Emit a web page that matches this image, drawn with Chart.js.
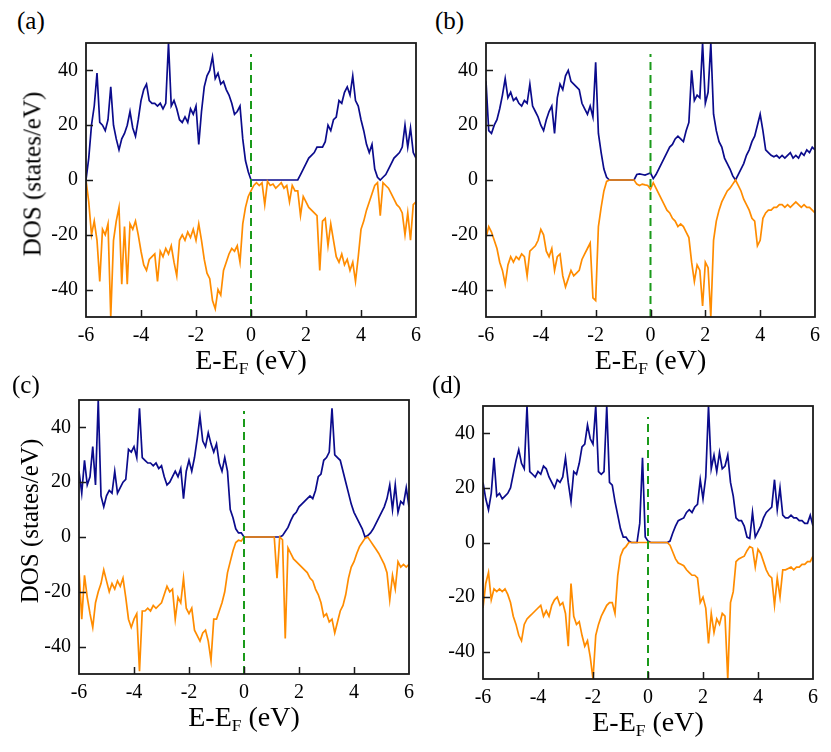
<!DOCTYPE html>
<html>
<head>
<meta charset="utf-8">
<script src="https://cdn.jsdelivr.net/npm/chart.js@4.4.1/dist/chart.umd.min.js"></script>
<style>
  html, body { margin: 0; padding: 0; background: #fff; }
  #page { position: relative; width: 831px; height: 752px; overflow: hidden; font-family: "Liberation Serif", serif; color: #000; }
  .panel { position: absolute; }
  .tag { position: absolute; font-size: 25px; line-height: 1; }
  .xtitle { position: absolute; font-size: 28px; line-height: 1; white-space: nowrap; transform: translateX(-50%); }
  .xtitle sub { font-size: 0.62em; vertical-align: -0.3em; line-height: 0; }
  .ytitle { position: absolute; font-size: 25px; line-height: 1; white-space: nowrap; transform: translate(-50%, -50%) rotate(-90deg); }
</style>
</head>
<body>
<div id="page"></div>
<script>
// energy grid, E - E_F in eV, 0.1 eV steps from -6 to 6
const energy = [];
for (let i = 0; i <= 120; i++) energy.push(Math.round((-6 + i * 0.1) * 10) / 10);

const xTickValues = [-6, -4, -2, 0, 2, 4, 6];
const yTickValues = [-40, -20, 0, 20, 40];
const fermiLevel = 0;
const fermiTop = 46;

// DOS, states/eV (spin up positive, spin down negative)
const aUp = [
  0, 8, 20, 27, 39, 21, 20, 18, 22, 34,
  20, 15, 11, 15, 17, 20, 25, 19, 16, 22,
  29, 33, 35, 29, 28, 28, 27, 28, 26, 28,
  50, 27, 29, 26, 22, 21, 23, 21, 26, 24,
  27, 13, 25, 34, 38, 40, 45, 37, 39, 35,
  36, 33, 31, 28, 24, 25, 27, 15, 7, 3,
  0, 0, 0, 0, 0, 0, 0, 0, 0, 0,
  0, 0, 0, 0, 0, 0, 0, 0, 2, 4,
  6, 8, 9, 10, 12, 12, 12, 14, 20, 18,
  22, 23, 29, 28, 32, 34, 31, 38, 29, 27,
  22, 18, 13, 10, 13, 4, 1, 0, 1, 2,
  4, 6, 8, 9, 10, 12, 20, 12, 19, 10,
  8
];
const aDown = [
  0, -8, -20, -15, -22, -37, -18, -20, -16, -50,
  -22, -15, -10, -38, -17, -38, -16, -18, -15, -20,
  -26, -31, -33, -29, -28, -27, -37, -26, -28, -25,
  -27, -24, -30, -35, -22, -20, -22, -19, -21, -18,
  -22, -16, -22, -29, -34, -36, -44, -47, -40, -42,
  -33, -30, -27, -25, -26, -24, -30, -16, -10, -6,
  -4, -2, -1, -2, -1, -9, -0.5, -2, -1.5, -3,
  -2, -1, -3, -2, -8, -2, -4, -4, -13, -6,
  -8, -10, -11, -12, -13, -33, -15, -14, -24, -16,
  -22, -28, -30, -27, -31, -29, -33, -30, -37, -28,
  -18, -15, -11, -8, -5, -2, -1, -13, -1, -2,
  -3, -5, -7, -9, -10, -12, -20, -12, -22, -9,
  -8
];
const bUp = [
  36, 18, 17, 20, 22, 26, 31, 37, 30, 32,
  29, 30, 28, 27, 29, 28, 35, 27, 25, 23,
  20, 18, 22, 25, 27, 17, 30, 35, 33, 38,
  40, 36, 35, 34, 33, 28, 26, 24, 27, 23,
  43, 17, 10, 4, 1, 0, 0, 0, 0, 0,
  0, 0, 0, 0, 0, 2, 2.2, 2, 1.8, 2.2,
  2.6, 0.5, 2, 4, 6, 8, 10, 12, 13, 15,
  16, 15, 14, 18, 21, 40, 29, 31, 30, 50,
  28, 32, 50, 24, 18, 14, 12, 8, 6, 4,
  1.5, 0, 2, 4, 6, 9, 11, 14, 16, 20,
  24, 18, 11, 10, 9, 8.5, 9, 8, 9, 8,
  9, 10, 8, 9, 8, 10, 9, 11, 10, 12,
  11
];
const bDown = [
  -21, -17, -19, -22, -25, -30, -33, -38, -31, -28,
  -30, -28, -29, -27, -28, -35, -26, -25, -24, -22,
  -18, -20, -26, -28, -25, -33, -28, -27, -35, -39,
  -36, -33, -35, -34, -33, -29, -27, -25, -23, -43,
  -44, -17, -10, -4, -0.5, 0, 0, 0, 0, 0,
  0, 0, 0, 0, 0, -1.5, -2, -1.5, -1.8, -2,
  -3.4, -1, -3, -5, -7, -9, -11, -12, -14, -15,
  -17, -16, -17, -19, -21, -30, -37, -31, -33, -46,
  -30, -32, -50, -22, -15, -11, -8, -6, -4, -3,
  -1.5, 0, -2, -4, -7, -9, -11, -14, -15, -24,
  -22, -14, -12, -11, -11, -10, -10, -9, -9, -10,
  -9, -10, -9, -8, -9, -10, -9, -10, -10, -11,
  -12
];
const cUp = [
  24, 16, 28, 19, 22, 33, 19, 50, 15, 11,
  15, 17, 16, 24, 16, 18, 20, 21, 32, 31,
  33, 29, 47, 29, 28, 27, 27, 26, 27, 25,
  26, 22, 19, 20, 22, 24, 22, 25, 14, 24,
  28, 24, 29, 36, 44, 35, 33, 38, 34, 31,
  34, 27, 24, 29, 24, 10, 7, 3, 1.5, 1.5,
  0, 0, 0, 0, 0, 0, 0, 0, 0, 0,
  0, 0, 0, 0, 0.5, 2, 3.5, 6, 8, 9,
  11, 12, 13, 14, 15, 14, 17, 22, 23, 28,
  29, 31, 47, 30, 29, 28, 24, 20, 16, 12,
  9, 7, 5, 3, 0, 0.5, 1.5, 3, 5, 7,
  9, 11, 14, 19, 10, 19, 9, 13, 12, 18,
  11
];
const cDown = [
  -12, -30, -14, -22, -28, -33, -24, -20, -17, -12,
  -16, -20, -17, -19, -16, -18, -15, -22, -30, -33,
  -30, -28, -49, -27, -27, -26, -27, -25, -26, -25,
  -24, -21, -18, -20, -19, -30, -22, -24, -15, -26,
  -28, -26, -34, -36, -38, -35, -34, -38, -45, -30,
  -30, -27, -24, -20, -13, -9, -5, -2, -1.2, -1.5,
  0, 0, 0, 0, 0, 0, 0, 0, 0, 0,
  0, 0, -15, 0, -1, -37, -4, -6, -8, -9,
  -10, -11, -12, -13, -15, -16, -19, -21, -24, -29,
  -28, -31, -30, -35, -31, -27, -25, -21, -15, -11,
  -9, -6, -3.5, -2, -0.5, 0, -1.5, -3, -4.5, -6,
  -8, -10, -13, -23, -14, -19, -9, -11, -10, -11,
  -10
];
const dUp = [
  22, 16, 12, 18, 31, 17, 18, 16, 17, 18,
  20, 25, 30, 34, 29, 27, 50, 26, 25, 24,
  26, 25, 28, 27, 24, 22, 20, 23, 22, 24,
  31, 22, 15, 26, 25, 29, 35, 36, 43, 38,
  36, 50, 26, 25, 26, 50, 22, 21, 15, 10,
  5, 2, 2, 0.5, 0, 0, 0, 7, 31, 2,
  0.5, 0, 0, 0, 0, 0, 0, 0, 0.5, 3.5,
  6, 8, 8.5, 9, 11, 12, 11, 13, 14, 23,
  16, 24, 50, 27, 32, 26, 33, 27, 28, 32,
  22, 17, 9, 8, 8, 6, 2, 1.5, 11, 2,
  4, 6, 9, 11, 12, 13, 23, 12, 20, 10,
  9, 9, 10, 9, 9, 8, 8, 7, 7, 10,
  6
];
const dDown = [
  -24, -15, -11, -21, -17, -18, -17, -18, -17, -19,
  -22, -27, -30, -34, -36, -30, -28, -27, -26, -25,
  -24, -23, -27, -25, -27, -23, -21, -20, -23, -22,
  -26, -38, -15, -27, -30, -29, -34, -38, -36, -42,
  -50, -34, -30, -27, -25, -23, -22, -22, -26, -12,
  -5, -2.5, -1.5, 0, 0, 0, 0, 0, 0, 0,
  0, 0, 0, 0, 0, 0, 0, 0, -1, -3.5,
  -6, -7.5, -8, -8.5, -10, -11, -12, -12, -13, -22,
  -20, -24, -37, -26, -33, -28, -30, -26, -27, -50,
  -22, -18, -7, -6, -5.5, -5, -3, -1.5, -2, -9,
  -2.5, -4, -7, -10, -12, -13, -23, -13, -20, -10,
  -10, -9.5, -9, -10, -9, -9, -8, -8, -7, -7,
  -5
];

const FONT = "Liberation Serif";
Chart.defaults.font.family = FONT;
const Y_AXIS_W = 62, X_AXIS_H = 34, PAD_TOP = 6, PAD_RIGHT = 8;

// box = plot area [left, top, width, height] on the page
const panels = [
  { tag: "(a)", up: aUp, down: aDown, box: [86, 43, 330, 274], tagAt: [17, 8], yTitleAt: [32, 174] },
  { tag: "(b)", up: bUp, down: bDown, box: [486, 43, 329, 274], tagAt: [435, 8], yTitleAt: null },
  { tag: "(c)", up: cUp, down: cDown, box: [79, 400, 330, 274], tagAt: [12, 372], yTitleAt: [29, 521] },
  { tag: "(d)", up: dUp, down: dDown, box: [483, 406, 330, 273], tagAt: [432, 372], yTitleAt: null }
];

const frame = {
  id: "frame",
  afterDatasetsDraw(chart) {
    const { ctx, chartArea: a } = chart;
    const x = chart.scales.x, y = chart.scales.y;
    ctx.save();
    ctx.strokeStyle = "#1a1a1a";
    ctx.lineWidth = 1.5;
    ctx.beginPath();
    xTickValues.slice(1, -1).forEach(v => {
      const px = Math.round(x.getPixelForValue(v)) + 0.5;
      ctx.moveTo(px, a.bottom);
      ctx.lineTo(px, a.bottom - 7);
    });
    yTickValues.forEach(v => {
      const py = Math.round(y.getPixelForValue(v)) + 0.5;
      ctx.moveTo(a.left, py);
      ctx.lineTo(a.left + 7, py);
    });
    ctx.stroke();
    ctx.lineWidth = 1.8;
    ctx.strokeRect(a.left, a.top, a.right - a.left, a.bottom - a.top);
    ctx.restore();
  }
};

function toPoints(values) {
  return energy.map((e, i) => ({ x: e, y: values[i] }));
}

const page = document.getElementById("page");

panels.forEach(p => {
  const [left, top, w, h] = p.box;

  const wrap = document.createElement("div");
  wrap.className = "panel";
  wrap.style.left = (left - Y_AXIS_W) + "px";
  wrap.style.top = (top - PAD_TOP) + "px";
  wrap.style.width = (w + Y_AXIS_W + PAD_RIGHT) + "px";
  wrap.style.height = (h + PAD_TOP + X_AXIS_H) + "px";
  const canvas = document.createElement("canvas");
  wrap.appendChild(canvas);
  page.appendChild(wrap);

  const tag = document.createElement("div");
  tag.className = "tag";
  tag.textContent = p.tag;
  tag.style.left = p.tagAt[0] + "px";
  tag.style.top = p.tagAt[1] + "px";
  page.appendChild(tag);

  const xt = document.createElement("div");
  xt.className = "xtitle";
  xt.innerHTML = "E-E<sub>F</sub> (eV)";
  xt.style.left = (left + w / 2) + "px";
  xt.style.top = (top + h + 29) + "px";
  page.appendChild(xt);

  if (p.yTitleAt) {
    const yt = document.createElement("div");
    yt.className = "ytitle";
    yt.textContent = "DOS (states/eV)";
    yt.style.left = p.yTitleAt[0] + "px";
    yt.style.top = p.yTitleAt[1] + "px";
    page.appendChild(yt);
  }

  new Chart(canvas, {
    type: "line",
    data: {
      datasets: [
        {
          label: "E_F",
          data: [{ x: fermiLevel, y: -50 }, { x: fermiLevel, y: fermiTop }],
          borderColor: "#1a9a1a",
          borderWidth: 2,
          borderDash: [8, 5],
          pointRadius: 0,
          order: 0
        },
        {
          label: "spin down",
          data: toPoints(p.down),
          borderColor: "#ff8c00",
          borderWidth: 1.7,
          pointRadius: 0,
          tension: 0,
          order: 1
        },
        {
          label: "spin up",
          data: toPoints(p.up),
          borderColor: "#0b0b8c",
          borderWidth: 1.7,
          pointRadius: 0,
          tension: 0,
          order: 2
        }
      ]
    },
    options: {
      responsive: true,
      maintainAspectRatio: false,
      animation: false,
      layout: { padding: { top: PAD_TOP, right: PAD_RIGHT, left: 0, bottom: 0 } },
      plugins: { legend: { display: false }, tooltip: { enabled: false } },
      scales: {
        x: {
          type: "linear",
          min: -6,
          max: 6,
          grid: { display: false, drawTicks: false },
          border: { display: false },
          afterBuildTicks: s => { s.ticks = xTickValues.map(v => ({ value: v })); },
          afterFit: s => { s.height = X_AXIS_H; s.paddingLeft = 0; s.paddingRight = 0; },
          ticks: { color: "#000", padding: 7, maxRotation: 0, font: { family: FONT, size: 20 }, callback: v => String(v) }
        },
        y: {
          type: "linear",
          min: -50,
          max: 50,
          grid: { display: false, drawTicks: false },
          border: { display: false },
          afterBuildTicks: s => { s.ticks = yTickValues.map(v => ({ value: v })); },
          afterFit: s => { s.width = Y_AXIS_W; s.paddingTop = 0; s.paddingBottom = 0; },
          ticks: { color: "#000", padding: 8, font: { family: FONT, size: 20 }, callback: v => String(v) }
        }
      }
    },
    plugins: [frame]
  });
});
</script>
</body>
</html>
